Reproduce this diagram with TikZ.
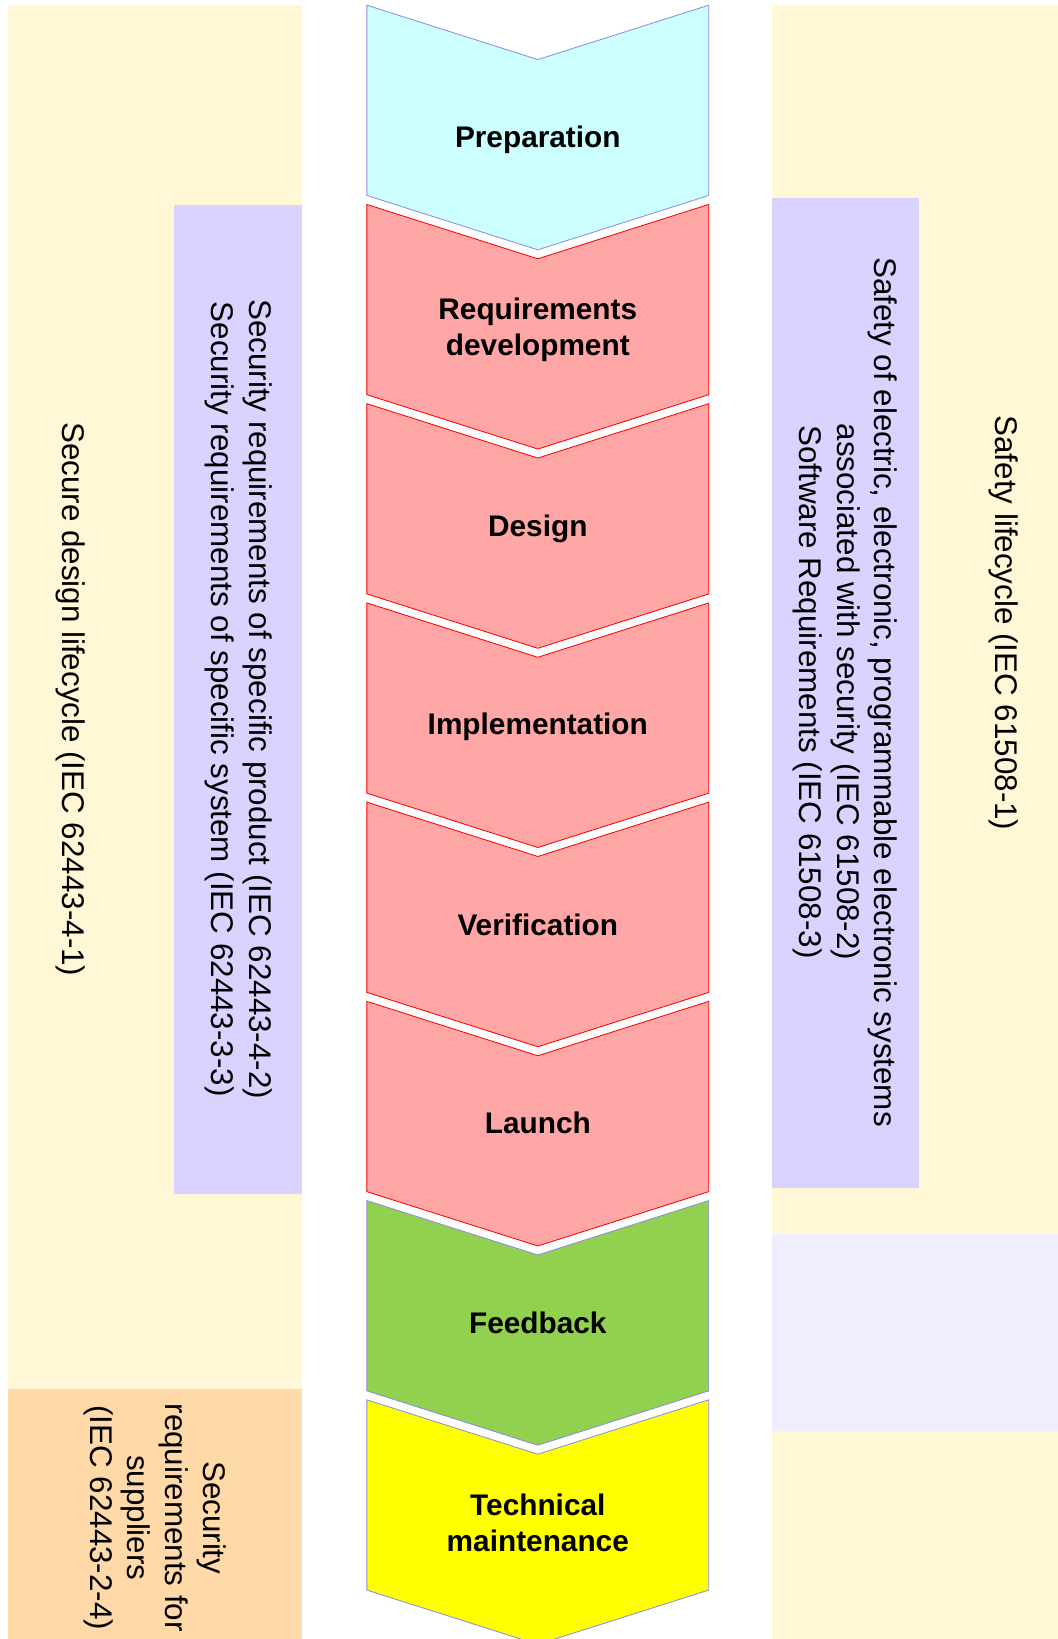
\documentclass[tikz,border=0pt]{standalone}
\usepackage{fontspec}
\setmainfont{Liberation Sans}
\definecolor{paleyellow}{HTML}{FFF7D6}
\definecolor{palepurple}{HTML}{D9D4FF}
\definecolor{paleorange}{HTML}{FFDAA8}
\definecolor{palelavender}{HTML}{EFEEFE}
\definecolor{prepcyan}{HTML}{CCFFFF}
\definecolor{stepred}{HTML}{FFA6A6}
\definecolor{stepgreen}{HTML}{92D050}
\definecolor{stepyellow}{HTML}{FFFF00}
\definecolor{edgeblue}{HTML}{8C8CE0}
\begin{document}
\begin{tikzpicture}[x=1pt,y=-1pt,
  chev/.style={line width=0.8pt},
  steplabel/.style={font=\fontsize{28.5}{34}\selectfont\bfseries,align=center},
  sidelabel/.style={font=\fontsize{30}{36}\selectfont,align=center,rotate=-90}]
  \useasboundingbox (0,0) rectangle (1012,1568);
  \clip (0,0) rectangle (1012,1568);
  % left columns
  \fill[paleyellow] (7.7,4.8) rectangle (289.2,1328.5);
  \fill[palepurple] (166.5,196) rectangle (289.2,1142.7);
  \fill[paleorange] (7.7,1328.5) rectangle (289.2,1568);
  % right columns
  \fill[paleyellow] (738.4,4.8) rectangle (1012,1568);
  \fill[palepurple] (738.4,189.4) rectangle (879,1136.3);
  \fill[palelavender] (738.4,1180.3) rectangle (1012,1368.7);
  % chevrons
  \draw[chev,draw=edgeblue,fill=prepcyan] (351,5) -- ++(163.5,52) -- ++(163.5,-52) -- ++(0,182) -- ++(-163.5,52) -- ++(-163.5,-52) -- cycle;
  \draw[chev,draw=red,fill=stepred] (351,195.6) -- ++(163.5,52) -- ++(163.5,-52) -- ++(0,182) -- ++(-163.5,52) -- ++(-163.5,-52) -- cycle;
  \draw[chev,draw=red,fill=stepred] (351,386.2) -- ++(163.5,52) -- ++(163.5,-52) -- ++(0,182) -- ++(-163.5,52) -- ++(-163.5,-52) -- cycle;
  \draw[chev,draw=red,fill=stepred] (351,576.8) -- ++(163.5,52) -- ++(163.5,-52) -- ++(0,182) -- ++(-163.5,52) -- ++(-163.5,-52) -- cycle;
  \draw[chev,draw=red,fill=stepred] (351,767.4) -- ++(163.5,52) -- ++(163.5,-52) -- ++(0,182) -- ++(-163.5,52) -- ++(-163.5,-52) -- cycle;
  \draw[chev,draw=red,fill=stepred] (351,958) -- ++(163.5,52) -- ++(163.5,-52) -- ++(0,182) -- ++(-163.5,52) -- ++(-163.5,-52) -- cycle;
  \draw[chev,draw=edgeblue,fill=stepgreen] (351,1148.6) -- ++(163.5,52) -- ++(163.5,-52) -- ++(0,182) -- ++(-163.5,52) -- ++(-163.5,-52) -- cycle;
  \draw[chev,draw=edgeblue,fill=stepyellow] (351,1339.2) -- ++(163.5,52) -- ++(163.5,-52) -- ++(0,182) -- ++(-163.5,52) -- ++(-163.5,-52) -- cycle;
  % step names
  \node[steplabel] (prep) at (514.5,134) {Preparation};
  \node[steplabel] (reqdev) at (514.5,315.5) {Requirements\\development};
  \node[steplabel] (design) at (514.5,506) {Design};
  \node[steplabel] (impl) at (514.5,695) {Implementation};
  \node[steplabel] (verif) at (514.5,885) {Verification};
  \node[steplabel] (launch) at (514.5,1074) {Launch};
  \node[steplabel] (feedback) at (514.5,1266) {Feedback};
  \node[steplabel] (maint) at (514.5,1457) {Technical\\maintenance};
  % standards
  \node[sidelabel] (secure) at (68,669) {Secure design lifecycle (IEC 62443-4-1)};
  \node[sidelabel] (prodsys) at (228,669) {Security requirements of specific product (IEC 62443-4-2)\\Security requirements of specific system (IEC 62443-3-3)};
  \node[sidelabel] (suppliers) at (148,1452) {Security\\requirements for\\suppliers\\(IEC 62443-2-4)};
  \node[sidelabel] (safety) at (960,596) {Safety lifecycle (IEC 61508-1)};
  \node[sidelabel] (eepe) at (808.5,662) {Safety of electric, electronic, programmable electronic systems\\associated with security (IEC 61508-2)\\Software Requirements (IEC 61508-3)};
\end{tikzpicture}
\end{document}
